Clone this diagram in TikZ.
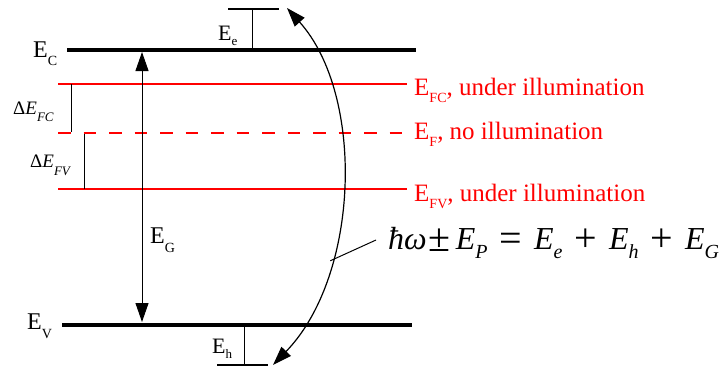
\documentclass[tikz,border=0pt]{standalone}
\usepackage{fontspec}
\setmainfont{Liberation Serif}
\usetikzlibrary{arrows.meta}
\newcommand\lowsub[3]{\raisebox{-#1pt}{\fontsize{#2}{#2}\selectfont #3}}
\newcommand\opgap{\hspace{12pt}}
\newcommand\bigop[1]{\raisebox{-2.3pt}{\fontsize{40}{40}\selectfont #1}}
\begin{document}
\begin{tikzpicture}[x=1pt,y=-1pt,
  band/.style={line width=4pt},
  fermi/.style={red, line width=2.5pt},
  fermidash/.style={red, line width=2.5pt, dash pattern=on 12.5pt off 13pt},
  thinline/.style={line width=1pt},
  shortlevel/.style={line width=2pt},
  tri/.style={{Triangle[length=19pt,width=13pt]}-{Triangle[length=19pt,width=13pt]}},
  lbl/.style={anchor=base west, inner sep=0pt, font=\fontsize{24}{28}\selectfont},
  smlbl/.style={anchor=base west, inner sep=0pt, font=\fontsize{22}{26}\selectfont},
  dlbl/.style={anchor=base west, inner sep=0pt, font=\fontsize{19}{22}\selectfont},
  redlbl/.style={anchor=base west, inner sep=0pt, red, font=\fontsize{25}{28}\selectfont},
  eqlbl/.style={anchor=base west, inner sep=0pt, font=\fontsize{32}{36}\selectfont}
]
\useasboundingbox (0,0) rectangle (727,367);

% band edges
\coordinate (ecL) at (67,50);  \coordinate (ecR) at (416,50);
\coordinate (evL) at (62,325); \coordinate (evR) at (412,325);
\draw[band] (ecL) -- (ecR);
\draw[band] (evL) -- (evR);

% quasi-Fermi levels
\coordinate (fcL) at (58,84);  \coordinate (fcR) at (407,84);
\coordinate (fL)  at (58,133); \coordinate (fR)  at (404,133);
\coordinate (fvL) at (58,189); \coordinate (fvR) at (407,189);
\draw[fermi] (fcL) -- (fcR);
\draw[fermidash] (fL) -- (fR);
\draw[fermi] (fvL) -- (fvR);

% splitting ticks
\coordinate (dfcT) at (71,84);  \coordinate (dfcB) at (71,132);
\coordinate (dfvT) at (84,134); \coordinate (dfvB) at (84,189);
\draw[thinline] (dfcT) -- (dfcB);
\draw[thinline] (dfvT) -- (dfvB);

% gap arrow
\coordinate (gT) at (142,52); \coordinate (gB) at (142,322);
\draw[thinline, tri] (gT) -- (gB);

% electron and hole levels
\coordinate (eeL) at (228,9); \coordinate (eeR) at (279,9);
\coordinate (eeT) at (252,9); \coordinate (eeB) at (252,48);
\draw[shortlevel] (eeL) -- (eeR);
\draw[thinline] (eeT) -- (eeB);
\coordinate (ehL) at (217,365); \coordinate (ehR) at (268,365);
\coordinate (ehT) at (244,327); \coordinate (ehB) at (244,365);
\draw[shortlevel] (ehL) -- (ehR);
\draw[thinline] (ehT) -- (ehB);

% curved transition arrow
\coordinate (cTop) at (287,8);
\coordinate (cBot) at (273,365);
\draw[line width=1.2pt, tri]
  (cTop) .. controls (365,95) and (360,275) .. coordinate[pos=0.69] (hook) (cBot);
\coordinate (eqhook) at (376,240);
\draw[thinline] (hook) -- (eqhook);

% labels
\node[lbl] (lEC) at (33,57) {E\lowsub{8}{14}{C}};
\node[lbl] (lEV) at (27,329) {E\lowsub{9}{14}{V}};
\node[lbl] (lEG) at (150,243) {E\lowsub{9}{14}{G}};
\node[smlbl] (lEe) at (218,40) {E\lowsub{5}{13}{e}};
\node[smlbl] (lEh) at (212,353) {E\lowsub{5}{13}{h}};
\node[dlbl] (ldFC) at (13,114) {Δ\textit{E}\lowsub{7}{13}{\textit{FC}}};
\node[dlbl] (ldFV) at (30,167) {Δ\textit{E}\lowsub{8}{13}{\textit{FV}}};

\node[redlbl] (lFC) at (414,95) {E\lowsub{7}{14}{FC}, under illumination};
\node[redlbl] (lF)  at (414,139) {E\lowsub{7}{14}{F}, no illumination};
\node[redlbl] (lFV) at (414,201) {E\lowsub{7}{14}{FV}, under illumination};

\node[eqlbl] (eq) at (388,249) {\textit{ħω}\hspace{2pt}\bigop{±}\hspace{5pt}\textit{E}\lowsub{9}{20}{\textit{P}}\opgap\bigop{=}\opgap\textit{E}\lowsub{9}{20}{\textit{e}}\opgap\bigop{+}\opgap\textit{E}\lowsub{9}{20}{\textit{h}}\opgap\bigop{+}\opgap\textit{E}\lowsub{9}{20}{\textit{G}}};
\end{tikzpicture}
\end{document}
